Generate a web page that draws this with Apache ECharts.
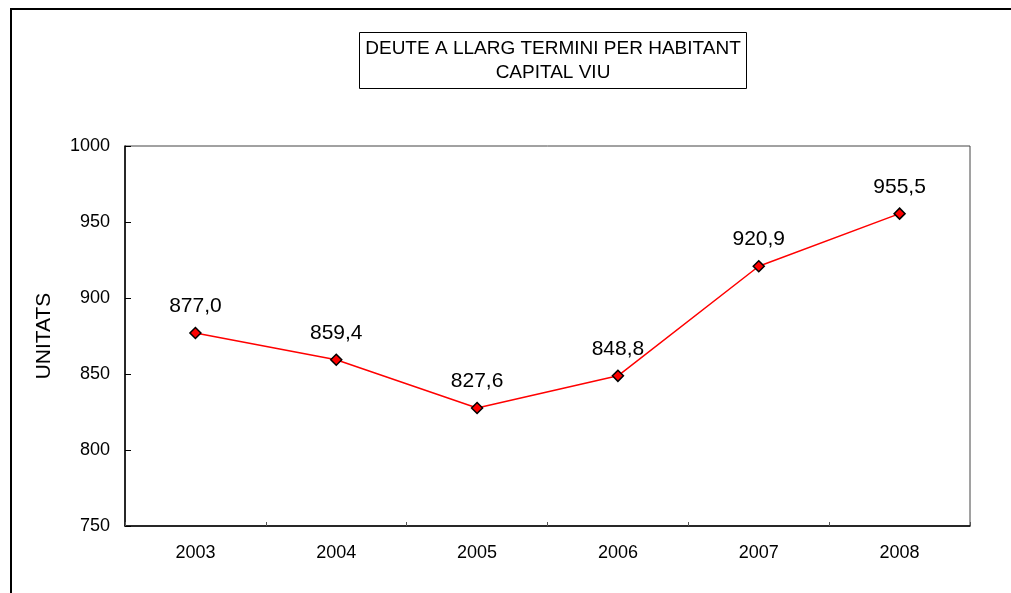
<!DOCTYPE html>
<html>
<head>
<meta charset="utf-8">
<script src="https://cdn.jsdelivr.net/npm/echarts@6/dist/echarts.min.js"></script>
<style>
html,body{margin:0;padding:0;background:#fff;overflow:hidden;}
#c{width:1011px;height:593px;}
</style>
</head>
<body>
<div id="c"></div>
<script>
const categories = ['2003','2004','2005','2006','2007','2008'];
const values = [877.0, 859.4, 827.6, 848.8, 920.9, 955.5];
const yTicks = [750, 800, 850, 900, 950, 1000];
const titleLines = ['DEUTE A LLARG TERMINI PER HABITANT', 'CAPITAL VIU'];
const yName = 'UNITATS';

const chart = echarts.init(document.getElementById('c'), null, {renderer:'canvas'});
const font = 'Liberation Sans, Arial, sans-serif';
chart.setOption({
  animation:false,
  backgroundColor:'#fff',
  textStyle:{fontFamily:font},
  grid:{left:125, top:146, width:845, height:380, show:true, borderColor:'#444', borderWidth:1, containLabel:false},
  graphic:[
    {type:'rect', shape:{x:11, y:9, width:1100, height:700}, style:{fill:'none', stroke:'#000', lineWidth:2}, z:0},
    {type:'rect', shape:{x:359.5, y:32.5, width:387, height:56}, style:{fill:'#fff', stroke:'#000', lineWidth:1}, z:10},
    {type:'text', x:553, y:60.5, style:{text:titleLines.join('\n'), font:'19px ' + font, fill:'#000', align:'center', verticalAlign:'middle', lineHeight:24}, z:11}
  ],
  xAxis:{
    type:'category', data:categories, boundaryGap:true,
    axisLine:{lineStyle:{color:'#000', width:1.5}},
    axisTick:{show:true, inside:true, length:4, lineStyle:{color:'#555'}},
    axisLabel:{color:'#000', fontSize:18, margin:18, fontFamily:font},
    splitLine:{show:false}
  },
  yAxis:{
    type:'value', min:750, max:1000, interval:50,
    name:yName, nameLocation:'middle', nameGap:70, nameRotate:90,
    nameTextStyle:{fontSize:21, color:'#000', fontFamily:font},
    axisLine:{show:true, lineStyle:{color:'#000', width:1.5}},
    axisTick:{show:true, inside:true, length:6, lineStyle:{color:'#000'}},
    axisLabel:{color:'#000', fontSize:18, margin:15, fontFamily:font,
      formatter:function(v){return yTicks.indexOf(v)>=0 ? String(v) : '';}},
    splitLine:{show:false}
  },
  series:[{
    type:'line', data:values,
    lineStyle:{color:'#ff0000', width:1.5},
    symbol:'diamond', symbolSize:11,
    itemStyle:{color:'#ff0000', borderColor:'#000', borderWidth:1.5},
    label:{show:true, position:'top', distance:10, fontSize:21, color:'#000', fontFamily:font,
      formatter:function(p){return p.value.toFixed(1).replace('.', ',');}}
  }]
});
</script>
</body>
</html>
